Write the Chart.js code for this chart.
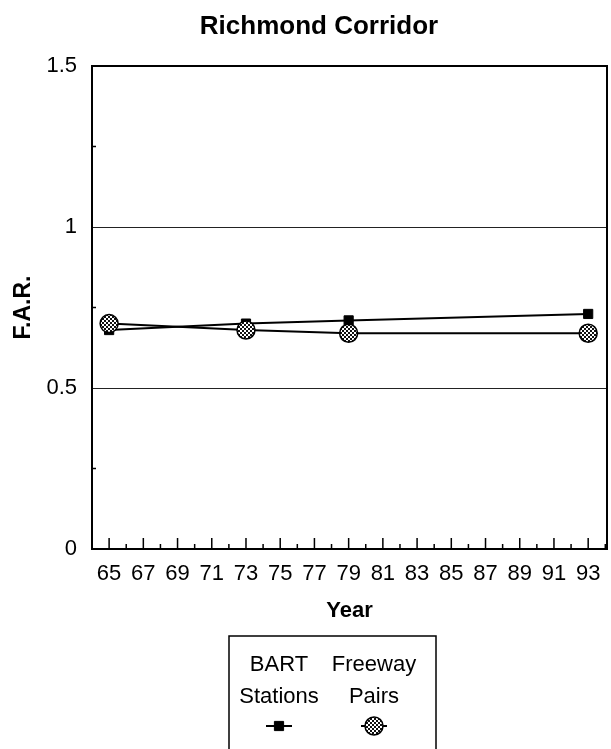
<!DOCTYPE html>
<html>
<head>
<meta charset="utf-8">
<title>Richmond Corridor</title>
<script src="https://cdn.jsdelivr.net/npm/chart.js@4/dist/chart.umd.min.js"></script>
<style>
  html, body { margin: 0; padding: 0; background: #fff; }
  canvas { display: block; }
</style>
</head>
<body>
<canvas id="farChart" width="611" height="749"></canvas>
<script>
const years = [65, 73, 79, 93];
const bartStations = [0.68, 0.70, 0.71, 0.73];
const freewayPairs = [0.70, 0.68, 0.67, 0.67];
const yTickLabels = [0, 0.5, 1, 1.5];
const legendNames = [['BART', 'Stations'], ['Freeway', 'Pairs']];

const FONT = '"Liberation Sans", Arial, sans-serif';

const canvas = document.getElementById('farChart');
const ctx = canvas.getContext('2d');

// grey dither fill for the round markers
function checkerPattern() {
    const c = document.createElement('canvas');
    c.width = 4;
    c.height = 4;
    const g = c.getContext('2d');
    g.fillStyle = '#fff';
    g.fillRect(0, 0, 4, 4);
    g.fillStyle = '#111';
    g.fillRect(0, 0, 2, 2);
    g.fillRect(2, 2, 2, 2);
    return ctx.createPattern(c, 'repeat');
}
const checker = checkerPattern();

const toPoints = (vals) => vals.map((v, i) => ({ x: years[i], y: v }));

const frame = {
    id: 'frame',
    beforeDatasetsDraw(chart) {
        const { ctx, chartArea: a, scales: { x, y } } = chart;
        ctx.save();
        ctx.strokeStyle = '#000';
        ctx.lineWidth = 2;
        ctx.beginPath();
        ctx.moveTo(a.left, a.top);
        ctx.lineTo(a.right, a.top);
        ctx.lineTo(a.right, a.bottom);
        ctx.stroke();

        // ticks point into the plot
        ctx.lineWidth = 1.5;
        ctx.beginPath();
        x.ticks.forEach(t => {
            const px = x.getPixelForValue(t.value);
            const len = t.value % 2 ? 11 : 5;
            ctx.moveTo(px, a.bottom);
            ctx.lineTo(px, a.bottom - len);
        });
        y.ticks.forEach(t => {
            if (yTickLabels.includes(t.value)) return;
            const py = y.getPixelForValue(t.value);
            ctx.moveTo(a.left, py);
            ctx.lineTo(a.left + 4, py);
        });
        ctx.stroke();
        ctx.restore();
    },
    afterDraw(chart) {
        const { ctx } = chart;
        ctx.save();
        ctx.fillStyle = '#000';
        ctx.textAlign = 'center';
        ctx.textBaseline = 'middle';
        ctx.font = 'bold 26px ' + FONT;
        ctx.fillText('Richmond Corridor', 319, 27);

        // legend box
        ctx.strokeStyle = '#000';
        ctx.lineWidth = 1.5;
        ctx.strokeRect(229, 636, 207, 140);
        ctx.font = '22px ' + FONT;
        const cols = [279, 374];
        chart.data.datasets.forEach((ds, i) => {
            const cx = cols[i];
            ctx.fillStyle = '#000';
            ctx.strokeStyle = '#000';
            ctx.fillText(legendNames[i][0], cx, 665);
            ctx.fillText(legendNames[i][1], cx, 697);
            ctx.lineWidth = 2;
            ctx.beginPath();
            ctx.moveTo(cx - 13, 726);
            ctx.lineTo(cx + 13, 726);
            ctx.stroke();
            ctx.fillStyle = ds.pointBackgroundColor;
            ctx.strokeStyle = ds.pointBorderColor;
            ctx.lineWidth = ds.pointBorderWidth;
            Chart.helpers.drawPoint(ctx, {
                pointStyle: ds.pointStyle,
                radius: ds.pointRadius,
                rotation: 0,
                borderWidth: ds.pointBorderWidth
            }, cx, 726);
        });
        ctx.restore();
    }
};

new Chart(ctx, {
    type: 'line',
    data: {
        datasets: [
            {
                label: 'BART Stations',
                data: toPoints(bartStations),
                borderColor: '#000',
                borderWidth: 2,
                pointStyle: 'rect',
                pointRadius: 6.5,
                pointBackgroundColor: '#000',
                pointBorderColor: '#000',
                pointBorderWidth: 1,
                order: 1
            },
            {
                label: 'Freeway Pairs',
                data: toPoints(freewayPairs),
                borderColor: '#000',
                borderWidth: 2,
                pointStyle: 'circle',
                pointRadius: 9,
                pointBackgroundColor: checker,
                pointBorderColor: '#000',
                pointBorderWidth: 1.5,
                order: 0
            }
        ]
    },
    options: {
        responsive: false,
        animation: false,
        events: [],
        layout: { autoPadding: false, padding: { top: 66, left: 0, right: 4, bottom: 125 } },
        plugins: {
            legend: { display: false },
            title: { display: false },
            tooltip: { enabled: false }
        },
        scales: {
            x: {
                type: 'linear',
                min: 64,
                max: 94.1,
                afterFit: (s) => {
                    s.height = 75;
                    s.paddingLeft = 0;
                    s.paddingRight = 0;
                },
                grid: { drawOnChartArea: false, drawTicks: false },
                border: { color: '#000', width: 2 },
                ticks: {
                    stepSize: 1,
                    includeBounds: false,
                    autoSkip: false,
                    maxRotation: 0,
                    padding: 12,
                    color: '#000',
                    font: { family: FONT, size: 22 },
                    callback: (v) => (v % 2 === 1 ? String(v) : '')
                },
                title: {
                    display: true,
                    text: 'Year',
                    color: '#000',
                    font: { family: FONT, size: 22, weight: 'bold' },
                    padding: { top: 0, bottom: 0 }
                }
            },
            y: {
                min: 0,
                max: 1.5,
                afterFit: (s) => {
                    s.width = 92;
                    s.paddingTop = 0;
                    s.paddingBottom = 0;
                },
                grid: {
                    drawTicks: false,
                    color: (c) => (c.tick.value === 0.5 || c.tick.value === 1 ? '#222' : 'rgba(0,0,0,0)'),
                    lineWidth: 1
                },
                border: { color: '#000', width: 2 },
                ticks: {
                    stepSize: 0.25,
                    padding: 15,
                    color: '#000',
                    font: { family: FONT, size: 22 },
                    callback: (v) => (yTickLabels.includes(v) ? String(v) : '')
                },
                title: {
                    display: true,
                    text: 'F.A.R.',
                    color: '#000',
                    font: { family: FONT, size: 23, weight: 'bold' },
                    padding: { top: 10, bottom: 0 }
                }
            }
        }
    },
    plugins: [frame]
});
</script>
</body>
</html>
